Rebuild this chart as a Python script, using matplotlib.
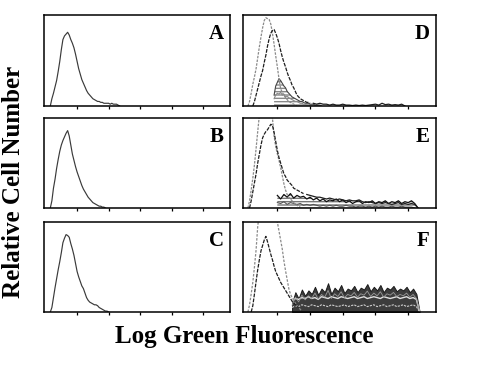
import numpy as np
import matplotlib
matplotlib.use("Agg")
import matplotlib.pyplot as plt

plt.rcParams['font.family'] = ['Liberation Serif', 'DejaVu Serif']

# ---------------- data (relative cell number vs fluorescence channel) ----------------
panel_letters = ["A", "B", "C", "D", "E", "F"]
tick_channels = [200, 400, 600, 800, 1000]
x_label = "Log Green Fluorescence"
y_label = "Relative Cell Number"

BIN = 10      # channel step for main histograms
BIN_T = 20    # channel step for tail / high-fluorescence populations

A_start = 30
A_vals = [0.0, 0.08, 0.14, 0.21, 0.28, 0.38, 0.49, 0.62, 0.73, 0.77, 0.79, 0.81, 0.78,
          0.73, 0.69, 0.64, 0.57, 0.49, 0.41, 0.35, 0.29, 0.25, 0.21, 0.17, 0.14, 0.12,
          0.10, 0.08, 0.07, 0.06, 0.05, 0.05, 0.04, 0.04, 0.03, 0.03, 0.03, 0.03, 0.02,
          0.03, 0.02, 0.02, 0.02, 0.01, 0.0]

B_start = 30
B_vals = [0.0, 0.08, 0.22, 0.32, 0.44, 0.54, 0.63, 0.70, 0.75, 0.79, 0.83, 0.86, 0.80,
          0.70, 0.60, 0.53, 0.46, 0.40, 0.35, 0.30, 0.25, 0.21, 0.18, 0.15, 0.12, 0.10,
          0.08, 0.06, 0.05, 0.04, 0.03, 0.02, 0.02, 0.01, 0.01, 0.0]

C_start = 30
C_vals = [0.0, 0.05, 0.16, 0.27, 0.37, 0.47, 0.56, 0.66, 0.77, 0.82, 0.86, 0.85, 0.83,
          0.76, 0.70, 0.63, 0.54, 0.45, 0.39, 0.34, 0.29, 0.26, 0.21, 0.16, 0.13, 0.11,
          0.10, 0.09, 0.08, 0.08, 0.07, 0.05, 0.04, 0.03, 0.02, 0.01, 0.01, 0.0]

# Panel D
D_ctrl_start = 20
D_ctrl = [0.0, 0.05, 0.14, 0.24, 0.32, 0.41, 0.53, 0.65, 0.76, 0.86, 0.94, 0.97, 0.96,
          0.95, 0.90, 0.80, 0.68, 0.55, 0.43, 0.30, 0.19, 0.15, 0.12, 0.09, 0.07, 0.05,
          0.04, 0.03, 0.02, 0.01, 0.0]
D_trt_start = 50
D_trt = [0.0, 0.05, 0.12, 0.19, 0.26, 0.33, 0.39, 0.48, 0.56, 0.66, 0.74, 0.80, 0.83,
         0.84, 0.80, 0.75, 0.69, 0.61, 0.54, 0.48, 0.43, 0.37, 0.32, 0.28, 0.23, 0.20,
         0.16, 0.12, 0.10, 0.08, 0.07, 0.06, 0.05, 0.04, 0.04, 0.03]
D_tail_start = 420
D_tail = [0.03, 0.02, 0.03, 0.02, 0.02, 0.01, 0.02, 0.01, 0.01, 0.02, 0.01, 0.01, 0.005,
          0.01, 0.005, 0.01, 0.005, 0.01, 0.015, 0.02, 0.01, 0.03, 0.015, 0.02, 0.01,
          0.015, 0.01, 0.02, 0.0]
D_band_start = 180
D_band_hi = [0.12, 0.22, 0.26, 0.30, 0.28, 0.25, 0.22, 0.20, 0.16, 0.14, 0.12, 0.10,
             0.09, 0.08, 0.07, 0.06, 0.05, 0.05, 0.04, 0.03, 0.03, 0.03, 0.02, 0.02,
             0.02, 0.01, 0.01, 0.01, 0.01, 0.0]
D_band_lo = [0.08, 0.12, 0.14, 0.13, 0.15, 0.12, 0.13, 0.10, 0.11, 0.09, 0.08, 0.07,
             0.06, 0.05, 0.05, 0.04, 0.03, 0.03, 0.02, 0.02, 0.01, 0.01, 0.0]

# Panel E
E_ctrl_start = 20
E_ctrl = [0.0, 0.08, 0.20, 0.33, 0.48, 0.66, 0.85, 1.03, 1.15, 1.20, 1.22, 1.20, 1.18,
          1.12, 1.06, 1.00, 0.80, 0.68, 0.60, 0.53, 0.45, 0.36, 0.27, 0.20, 0.15, 0.12,
          0.10, 0.08, 0.06, 0.04, 0.03, 0.02, 0.01]
E_trt_start = 30
E_trt = [0.0, 0.08, 0.18, 0.28, 0.38, 0.50, 0.60, 0.70, 0.78, 0.82, 0.85, 0.87, 0.90,
         0.93, 0.92, 0.84, 0.74, 0.64, 0.56, 0.50, 0.44, 0.38, 0.35, 0.31, 0.29, 0.27,
         0.25, 0.22, 0.21, 0.20, 0.19, 0.18, 0.17, 0.16]
E_tail_start = 380
E_tail = [0.15, 0.14, 0.13, 0.12, 0.12, 0.11, 0.10, 0.11, 0.10, 0.09, 0.10, 0.09, 0.08,
          0.09, 0.08, 0.08, 0.09, 0.07, 0.06, 0.07, 0.06, 0.05, 0.06, 0.05, 0.06, 0.05,
          0.04, 0.05, 0.06, 0.04, 0.05, 0.04, 0.05, 0.04, 0.0]
E_band_start = 200
E_band_hi = [0.14, 0.10, 0.15, 0.12, 0.16, 0.11, 0.14, 0.12, 0.13, 0.10, 0.12, 0.09,
             0.11, 0.08, 0.10, 0.07, 0.09, 0.08, 0.10, 0.07, 0.09, 0.06, 0.08, 0.05,
             0.07, 0.08, 0.05, 0.07, 0.06, 0.08, 0.05, 0.07, 0.06, 0.08, 0.05, 0.07,
             0.06, 0.08, 0.05, 0.07, 0.06, 0.08, 0.05, 0.0]
E_band_lo = [0.06, 0.05, 0.07, 0.04, 0.06, 0.05, 0.04, 0.05, 0.03, 0.04, 0.03, 0.04,
             0.03, 0.02, 0.03, 0.02, 0.03, 0.02, 0.03, 0.02, 0.02, 0.03, 0.02, 0.02,
             0.01, 0.02, 0.02, 0.01, 0.02, 0.01, 0.02, 0.01, 0.02, 0.01, 0.01, 0.02,
             0.01, 0.01, 0.02, 0.01, 0.01, 0.01, 0.0]

# Panel F
F_ctrl_start = 20
F_ctrl = [0.0, 0.08, 0.20, 0.33, 0.50, 0.69, 0.95, 1.10, 1.20, 1.28, 1.30, 1.30, 1.28,
          1.25, 1.20, 1.15, 1.10, 1.05, 1.00, 0.90, 0.80, 0.70, 0.57, 0.46, 0.36, 0.26,
          0.20, 0.16, 0.13, 0.10, 0.07, 0.05, 0.03, 0.01]
F_trt_start = 40
F_trt = [0.0, 0.07, 0.20, 0.34, 0.47, 0.58, 0.68, 0.74, 0.80, 0.84, 0.78, 0.71, 0.64,
         0.58, 0.51, 0.45, 0.41, 0.37, 0.33, 0.30, 0.27, 0.24, 0.21, 0.18, 0.15, 0.12,
         0.10, 0.08, 0.06, 0.05]
F_band_start = 290
F_band_hi = [0.10, 0.22, 0.15, 0.25, 0.18, 0.24, 0.20, 0.28, 0.19, 0.26, 0.22, 0.32,
             0.20, 0.27, 0.23, 0.30, 0.21, 0.26, 0.24, 0.29, 0.22, 0.27, 0.25, 0.31,
             0.23, 0.28, 0.24, 0.30, 0.22, 0.27, 0.25, 0.29, 0.23, 0.26, 0.24, 0.28,
             0.22, 0.26, 0.20, 0.0]
F_band_mid = [0.12, 0.15, 0.14, 0.16, 0.15, 0.17, 0.15, 0.16, 0.14, 0.17, 0.16, 0.15,
              0.17, 0.16, 0.15, 0.17, 0.16, 0.15, 0.16, 0.17, 0.15, 0.16, 0.17, 0.15,
              0.16, 0.17, 0.16, 0.15, 0.17, 0.16, 0.15, 0.16, 0.17, 0.15, 0.16, 0.17,
              0.15, 0.16, 0.14, 0.0]
F_band_lo = [0.05, 0.07, 0.06, 0.08, 0.07, 0.06, 0.08, 0.07, 0.06, 0.08, 0.07, 0.06,
             0.08, 0.07, 0.06, 0.07, 0.08, 0.06, 0.07, 0.08, 0.06, 0.07, 0.08, 0.06,
             0.07, 0.08, 0.06, 0.07, 0.08, 0.06, 0.07, 0.08, 0.06, 0.07, 0.08, 0.06,
             0.07, 0.08, 0.06, 0.0]


def chan(start, vals, step):
    return start + step * np.arange(len(vals))


fig = plt.figure(figsize=(4.84, 3.65), dpi=100)

W, H = 484.0, 365.0
left_cols = [(44, 230), (243, 436)]
rows = [(15, 106), (118, 208), (222, 312)]

axes = {}
for c, (x0, x1) in enumerate(left_cols):
    for r, (y0, y1) in enumerate(rows):
        ax = fig.add_axes([x0 / W, 1 - y1 / H, (x1 - x0) / W, (y1 - y0) / H])
        ax.set_xlim(-10, 1170)
        ax.set_ylim(0, 1.0)
        ax.set_xticks(tick_channels)
        ax.set_xticklabels([])
        ax.set_yticks([])
        ax.tick_params(axis='x', direction='out', length=2.5, width=0.9, color='black')
        for s in ax.spines.values():
            s.set_linewidth(1.1)
            s.set_color('black')
        letter = panel_letters[c * 3 + r]
        ax.text(0.966, 0.735, letter, transform=ax.transAxes, ha='right', va='baseline',
                fontsize=15, fontweight='bold', color='black')
        axes[letter] = ax

single_col = '#3a3a3a'
for letter, st, vals in [("A", A_start, A_vals), ("B", B_start, B_vals), ("C", C_start, C_vals)]:
    axes[letter].plot(chan(st, vals, BIN), vals, color=single_col, lw=0.85)

ctrl_col = '#8a8a8a'
trt_col = '#1e1e1e'

# D
ax = axes["D"]
ax.fill_between(chan(D_band_start, D_band_hi, BIN), 0, D_band_hi, facecolor='white',
                edgecolor='#888888', hatch='-----', lw=0.0)
ax.plot(chan(D_band_start, D_band_hi, BIN), D_band_hi, color='#444444', lw=0.8)
ax.plot(chan(D_band_start, D_band_lo, BIN), D_band_lo, color='#888888', lw=0.8)
ax.plot(chan(D_ctrl_start, D_ctrl, BIN), D_ctrl, color=ctrl_col, lw=0.9, ls=(0, (2, 1)))
ax.plot(chan(D_trt_start, D_trt, BIN), D_trt, color=trt_col, lw=0.9, ls=(0, (3, 1)))
ax.plot(chan(D_tail_start, D_tail, BIN_T), D_tail, color=trt_col, lw=0.9)

# E
ax = axes["E"]
ax.fill_between(chan(E_band_start, E_band_hi, BIN_T), 0, E_band_hi, facecolor='white',
                edgecolor='#777777', hatch='-----', lw=0.0)
ax.plot(chan(E_band_start, E_band_hi, BIN_T), E_band_hi, color='#111111', lw=0.9)
ax.plot(chan(E_band_start, E_band_lo, BIN_T), E_band_lo, color='#555555', lw=0.8)
ax.plot(chan(E_ctrl_start, E_ctrl, BIN), E_ctrl, color=ctrl_col, lw=0.9, ls=(0, (2, 1)))
ax.plot(chan(E_trt_start, E_trt, BIN), E_trt, color=trt_col, lw=0.9, ls=(0, (3, 1)))
ax.plot(chan(E_tail_start, E_tail, BIN_T), E_tail, color=trt_col, lw=0.9)

# F
ax = axes["F"]
xb = chan(F_band_start, F_band_hi, BIN_T)
ax.fill_between(xb, 0, F_band_hi, facecolor='#3c3c3c', edgecolor='#1a1a1a', lw=0.7)
ax.plot(xb, F_band_mid, color='#e0e0e0', lw=1.0)
ax.plot(xb, [v * 0.75 for v in F_band_hi], color='#9a9a9a', lw=0.6)
ax.plot(xb, F_band_lo, color='#cfcfcf', lw=0.8, ls=(0, (2, 1)))
ax.plot(chan(F_ctrl_start, F_ctrl, BIN), F_ctrl, color=ctrl_col, lw=0.9, ls=(0, (2, 1.2)))
ax.plot(chan(F_trt_start, F_trt, BIN), F_trt, color=trt_col, lw=0.9, ls=(0, (3, 1)))

fig.text(14 / W, 1 - 182 / H, y_label, rotation=90, ha='center', va='center',
         fontsize=18, fontweight='bold')
fig.text(244 / W, 1 - 337 / H, x_label, ha='center', va='center',
         fontsize=18, fontweight='bold')

fig.savefig("out.png", dpi=100)
